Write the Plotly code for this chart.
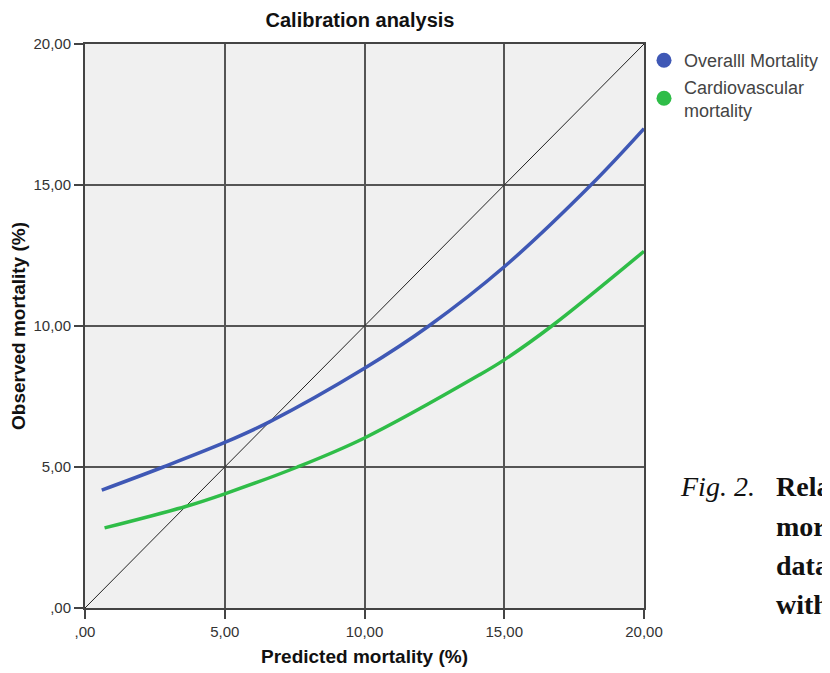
import plotly.graph_objects as go

# Data
overall_x = [0.6, 2.8, 5.0, 6.6, 10.0, 12.3, 15.0, 18.1, 20.0]
overall_y = [4.18, 5.0, 5.87, 6.6, 8.5, 10.0, 12.1, 15.0, 17.0]
cardio_x = [0.7, 3.6, 5.0, 7.6, 10.0, 14.1, 15.0, 16.7, 20.0]
cardio_y = [2.84, 3.6, 4.05, 5.0, 6.03, 8.26, 8.8, 10.0, 12.65]
diag_x = [0, 20]
diag_y = [0, 20]
tick_vals = [0, 5, 10, 15, 20]
tick_text = [",00", "5,00", "10,00", "15,00", "20,00"]
caption_label = "Fig. 2."
caption_lines = ["Rela", "mor", "data", "with"]

BLUE = "#3f58b5"
GREEN = "#2fbd48"
FONT = "Liberation Sans, Arial, sans-serif"
OFF = 8  # page body margin
W, H = 830 - OFF, 673 - OFF

fig = go.Figure()
fig.add_trace(go.Scatter(x=diag_x, y=diag_y, mode="lines",
                         line=dict(color="#222222", width=1), showlegend=False, hoverinfo="skip"))
fig.add_trace(go.Scatter(x=overall_x, y=overall_y, mode="lines", line_shape="spline",
                         line=dict(color=BLUE, width=3.5), showlegend=False))
fig.add_trace(go.Scatter(x=cardio_x, y=cardio_y, mode="lines", line_shape="spline",
                         line=dict(color=GREEN, width=3.5), showlegend=False))
# legend entries
fig.add_trace(go.Scatter(x=[None], y=[None], mode="markers", name="Overalll Mortality",
                         marker=dict(color=BLUE, size=15)))
fig.add_trace(go.Scatter(x=[None], y=[None], mode="markers", name="Cardiovascular<br>mortality",
                         marker=dict(color=GREEN, size=15)))

axis_common = dict(range=[0, 20], tickvals=tick_vals, ticktext=tick_text,
                   showgrid=True, gridcolor="#555555", gridwidth=1.5,
                   showline=True, linecolor="#444444", linewidth=2, mirror=True,
                   ticks="outside", ticklen=9, tickcolor="#444444", tickwidth=1.5,
                   tickfont=dict(family=FONT, size=15, color="#333333"),
                   zeroline=False, fixedrange=True)

fig.update_layout(
    width=W, height=H,
    margin=dict(l=85 - OFF, r=OFF + W - 644, t=44 - OFF, b=OFF + H - 608, autoexpand=False),
    paper_bgcolor="white", plot_bgcolor="#f0f0f0",
    title=dict(text="<b>Calibration analysis</b>", x=(360 - OFF) / W, xanchor="center",
               y=1 - (20 - OFF) / H, yanchor="middle",
               font=dict(family=FONT, size=20, color="#111111")),
    xaxis=dict(title=dict(text="<b>Predicted mortality (%)</b>", standoff=11,
                          font=dict(family=FONT, size=19, color="#111111")), **axis_common),
    yaxis=dict(title=dict(text="<b>Observed mortality (%)</b>", standoff=10,
                          font=dict(family=FONT, size=19, color="#111111")), **axis_common),
    legend=dict(x=(644 - 85) / 559, y=1.0 + 2 / 564, xanchor="left", yanchor="top",
                font=dict(family=FONT, size=18, color="#444444"),
                bgcolor="rgba(0,0,0,0)", itemwidth=30, tracegroupgap=8),
    showlegend=True,
)

SERIF = "Liberation Serif, DejaVu Serif, serif"
def px2paper(px, py):
    return (px - 85) / 559, (608 - py) / 564

cx, cy = px2paper(678, 487)
fig.add_annotation(text="<i>" + caption_label + "</i>", x=cx, y=cy, xref="paper", yref="paper",
                   xanchor="left", yanchor="middle", showarrow=False,
                   font=dict(family=SERIF, size=28, color="#111111"))
for i, t in enumerate(caption_lines):
    lx, ly = px2paper(774, 487 + 39 * i)
    fig.add_annotation(text="<b>" + t + "</b>", x=lx, y=ly, xref="paper", yref="paper",
                       xanchor="left", yanchor="middle", showarrow=False,
                       font=dict(family=SERIF, size=28, color="#111111"))

fig.write_html("out.html")
